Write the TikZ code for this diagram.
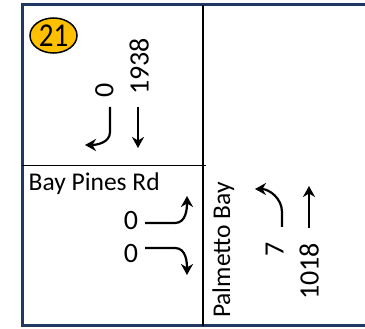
\documentclass[tikz,border=0pt]{standalone}
\usepackage{fontspec}
\setmainfont{Carlito}
\usetikzlibrary{arrows.meta,shapes.geometric}
\definecolor{navy}{RGB}{31,56,100}
\definecolor{badgeyellow}{RGB}{255,192,0}
\tikzset{
  frame/.style={draw=navy,line width=3pt},
  divider/.style={draw=black,line width=1.4pt},
  mov/.style={line width=2.2pt,-{Stealth[length=11pt,width=12pt,inset=3.5pt]}},
  vol/.style={inner sep=0pt,font=\fontsize{28}{28}\selectfont,rotate=90,anchor=base},
  hvol/.style={inner sep=0pt,font=\fontsize{28}{28}\selectfont,anchor=base},
  road/.style={inner sep=0pt,font=\fontsize{25.5}{25.5}\selectfont},
}
\begin{document}
\begin{tikzpicture}[x=1pt,y=-1pt]
\useasboundingbox (0,0) rectangle (365,329);
\fill[white] (0,0) rectangle (365,329);
% frame
\draw[frame] (22,5) rectangle (372,326);
\draw[divider] (203,5) -- (203,326);
\draw[divider] (22,165.5) -- (206,165.5);
% badge
\node[ellipse,draw=black,line width=1.5pt,fill=badgeyellow,minimum width=47pt,minimum height=35pt,inner sep=0pt] (badge) at (53.5,35.5) {};
\node[inner sep=0pt,font=\fontsize{29}{29}\selectfont] (badgetext) at (badge.center) {\scalebox{1}[1.15]{21}};
% southbound
\node[vol] (sbr) at (113.5,90) {0};
\node[vol] (sbt) at (148.5,66.5) {1938};
\coordinate (sbr1) at (110,107);
\coordinate (sbr2) at (110,132);
\coordinate (sbr3) at (85,145);
\coordinate (sbt1) at (138,107);
\coordinate (sbt2) at (138,148);
\draw[mov] (sbr1) -- (sbr2) to[out=-90,in=0] (sbr3);
\draw[mov] (sbt1) -- (sbt2);
% Bay Pines Rd
\node[road,anchor=base west] (bpr) at (28.5,191) {Bay Pines Rd};
\node[hvol] (ebl) at (131,230) {0};
\node[hvol] (ebr) at (131,263) {0};
\coordinate (ebl1) at (145,223);
\coordinate (ebl2) at (175,223);
\coordinate (ebl3) at (187,196);
\coordinate (ebr1) at (145,248);
\coordinate (ebr2) at (175,248);
\coordinate (ebr3) at (187,275);
\draw[mov] (ebl1) -- (ebl2) to[out=0,in=-90] (ebl3);
\draw[mov] (ebr1) -- (ebr2) to[out=0,in=90] (ebr3);
% Palmetto Bay
\node[road,rotate=90,anchor=base] (pb) at (230,250) {Palmetto Bay};
\node[vol] (nbl) at (283.5,249) {7};
\node[vol] (nbt) at (318.5,271.5) {1018};
\coordinate (nbl1) at (282,227);
\coordinate (nbl2) at (282,212);
\coordinate (nbl3) at (255,189);
\coordinate (nbt1) at (309,228);
\coordinate (nbt2) at (309,186);
\draw[mov] (nbl1) -- (nbl2) to[out=90,in=0] (nbl3);
\draw[mov] (nbt1) -- (nbt2);
\end{tikzpicture}
\end{document}
